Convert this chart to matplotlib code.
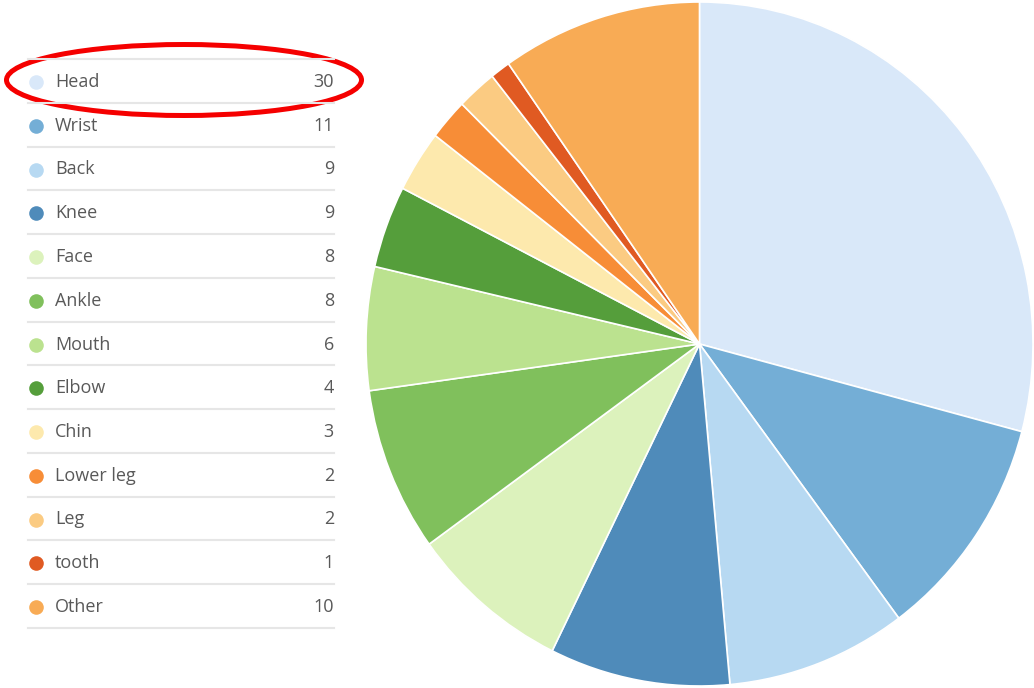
import matplotlib
matplotlib.use("Agg")
import matplotlib.pyplot as plt
from matplotlib.patches import Ellipse

labels = ["Head", "Wrist", "Back", "Knee", "Face", "Ankle", "Mouth", "Elbow",
          "Chin", "Lower leg", "Leg", "tooth", "Other"]
values = [30, 11, 9, 9, 8, 8, 6, 4, 3, 2, 2, 1, 10]
colors = ["#d9e8f9", "#74aed6", "#b7d9f2", "#4f8bba", "#dcf2bc", "#80c05c",
          "#bbe28f", "#559e3b", "#fde9ad", "#f78d37", "#fbcb82", "#e05a22",
          "#f8ab55"]

W, H = 1034, 688
fig = plt.figure(figsize=(W / 100, H / 100), dpi=100)

# Pie axes (slightly elliptical like the reference)
ax = fig.add_axes([366 / W, 2 / H, 667 / W, 684 / H])
ax.pie(values, colors=colors, startangle=90, counterclock=False, radius=1,
       wedgeprops=dict(edgecolor="white", linewidth=1.2))
ax.set_aspect("auto")
ax.set_xlim(-1, 1)
ax.set_ylim(-1, 1)
ax.axis("off")

# Legend overlay in pixel coordinates
lg = fig.add_axes([0, 0, 1, 1])
lg.set_xlim(0, W)
lg.set_ylim(H, 0)
lg.axis("off")
lg.patch.set_alpha(0)

row0 = 82
step = 43.75
font = ["Open Sans", "DejaVu Sans"]
for i, (lab, val, col) in enumerate(zip(labels, values, colors)):
    y = row0 + i * step
    lg.plot(36, y, "o", ms=10.5, color=col, mec="none")
    lg.text(55, y, lab, va="center", ha="left", fontsize=13, color="#595959",
            family=font)
    lg.text(334, y, str(val), va="center", ha="right", fontsize=13,
            color="#595959", family=font)
    lg.plot([28, 334], [y - step / 2 - 1, y - step / 2 - 1], color="#e6e6e6", lw=1.5)
lg.plot([28, 334], [row0 + 12.5 * step - 1, row0 + 12.5 * step - 1], color="#e6e6e6", lw=1.5)

lg.add_patch(Ellipse((184, 80), 355, 71, fill=False, edgecolor="#f50000", lw=3.6))

fig.savefig("out.png", dpi=100)
